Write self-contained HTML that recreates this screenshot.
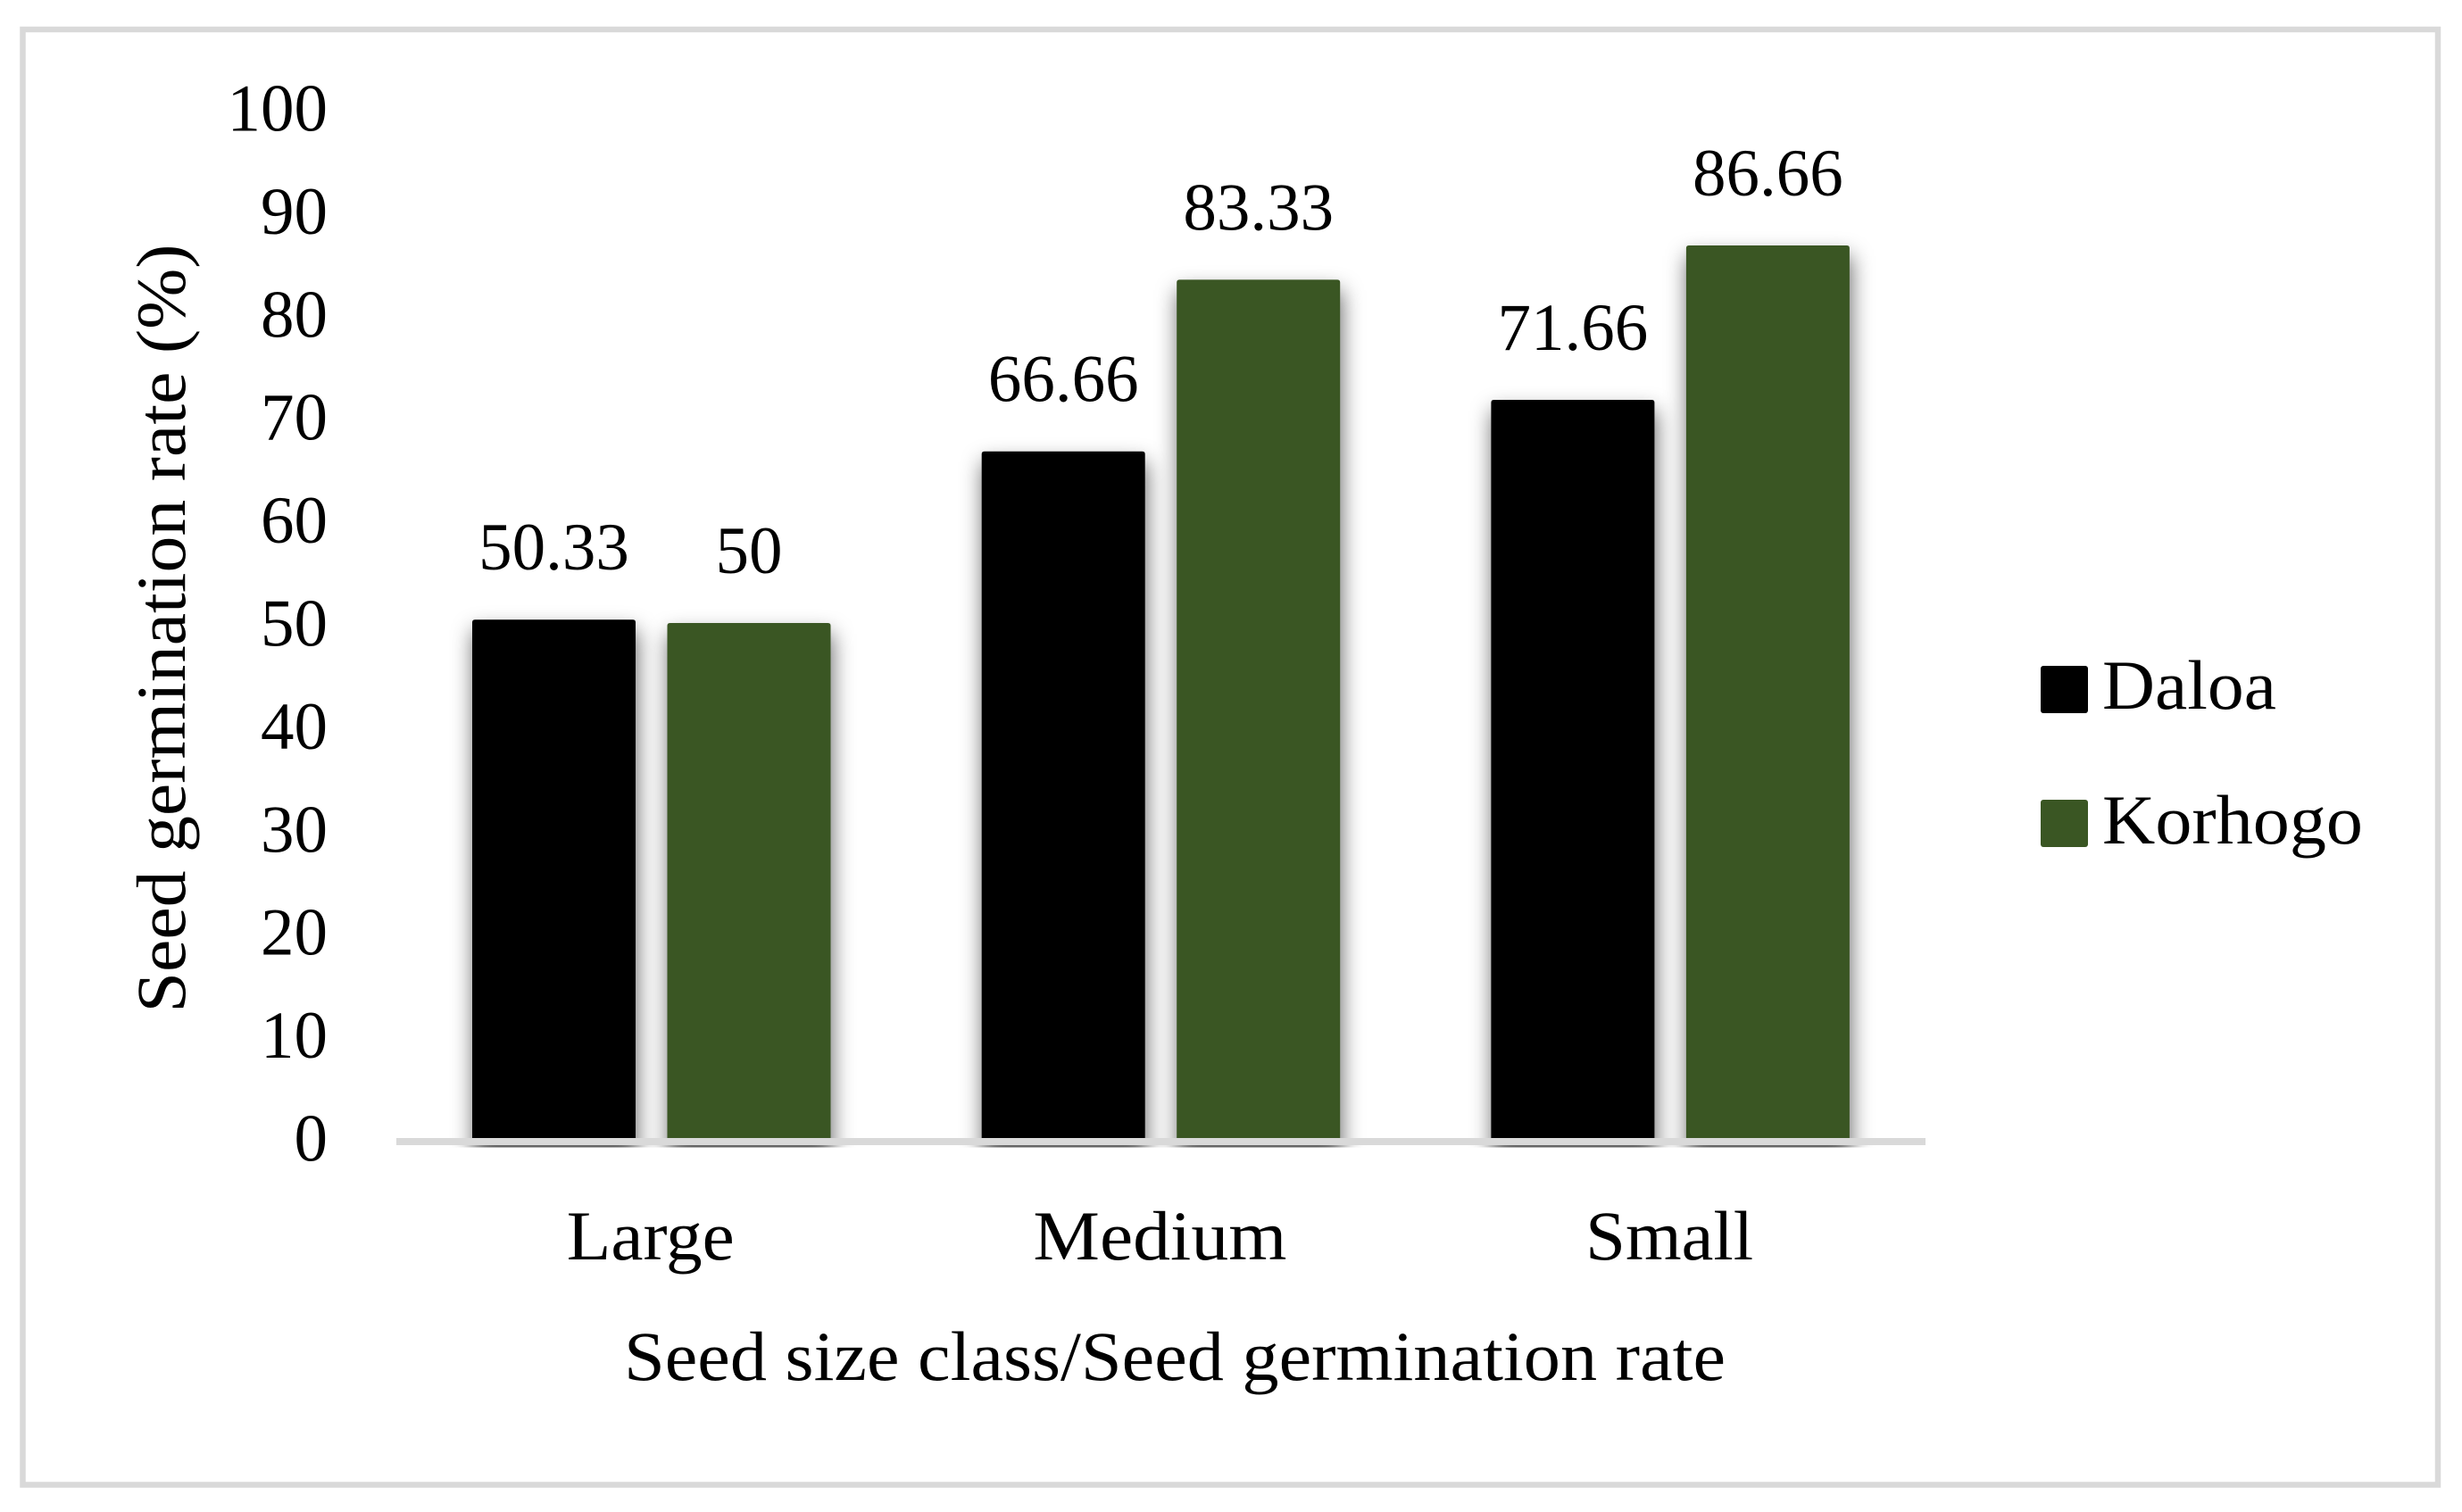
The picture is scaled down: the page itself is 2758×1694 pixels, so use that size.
<!DOCTYPE html>
<html lang="en">
<head>
<meta charset="utf-8">
<title>Seed germination rate by seed size class</title>
<style>
  html, body { margin: 0; padding: 0; background: #fff; width: 2758px; height: 1694px; overflow: hidden; }
  svg { display: block; }
  text { font-family: "Liberation Serif", serif; fill: #000; }
</style>
</head>
<body>
<svg id="chart" xmlns="http://www.w3.org/2000/svg" width="2758" height="1694" viewBox="0 0 2758 1694">
  <defs>
    <filter id="bar-shadow-blur" filterUnits="userSpaceOnUse" x="0" y="0" width="2758" height="1694">
      <feGaussianBlur stdDeviation="12"/>
    </filter>
    <clipPath id="shadow-clip">
      <rect x="0" y="0" width="2758" height="1285.5"/>
    </clipPath>
  </defs>
  <rect x="0" y="0" width="2758" height="1694" fill="#ffffff"/>
  <rect x="25.5" y="33" width="2705.5" height="1630.5" fill="none" stroke="#d9d9d9" stroke-width="6.5"/>
  <g id="shadows" clip-path="url(#shadow-clip)"></g>
  <g id="bars"></g>
  <rect x="444" y="1275" width="1713" height="8" fill="#d9d9d9"/>
  <g id="y-ticks"></g>
  <g id="x-ticks"></g>
  <g id="value-labels"></g>
  <text transform="translate(207 704) rotate(-90)" text-anchor="middle" font-size="78" textLength="861" lengthAdjust="spacingAndGlyphs">Seed germination rate (%)</text>
  <text x="1316" y="1546" text-anchor="middle" font-size="78" textLength="1234" lengthAdjust="spacingAndGlyphs">Seed size class/Seed germination rate</text>
  <g>
    <g>
      <rect x="2286" y="746" width="53" height="53" rx="3" fill="#000000"/>
      <text x="2355" y="794" font-size="78" textLength="195" lengthAdjust="spacingAndGlyphs">Daloa</text>
    </g>
    <g>
      <rect x="2286" y="896" width="53" height="53" rx="3" fill="#3a5623"/>
      <text x="2355" y="945" font-size="78" textLength="292" lengthAdjust="spacingAndGlyphs">Korhogo</text>
    </g>
  </g>
</svg>
<script>
const categories = ['Large', 'Medium', 'Small'];
const daloa = [50.33, 66.66, 71.66];
const korhogo = [50, 83.33, 86.66];
const yTickLabels = [0, 10, 20, 30, 40, 50, 60, 70, 80, 90, 100];

const NS = 'http://www.w3.org/2000/svg';
const PLOT_BASE = 1275;
const PX_PER_UNIT = 11.54;
const GROUP_START = 529;
const GROUP_STEP = 570.7;
const BAR_W = 183;
const BAR_OFFSET = 218.5;
const categoryLabelWidth = { Large: 188, Medium: 284, Small: 188 };

function yScale(v) { return PLOT_BASE - v * PX_PER_UNIT; }
function xScale(groupIndex, seriesIndex) { return GROUP_START + groupIndex * GROUP_STEP + seriesIndex * BAR_OFFSET; }

function make(tag, attrs, parent) {
  const el = document.createElementNS(NS, tag);
  for (const k in attrs) el.setAttribute(k, attrs[k]);
  parent.appendChild(el);
  return el;
}

const shadowLayer = document.getElementById('shadows');
const barLayer = document.getElementById('bars');
const labelLayer = document.getElementById('value-labels');
const yTickLayer = document.getElementById('y-ticks');
const xTickLayer = document.getElementById('x-ticks');

const seriesList = [
  { key: 'daloa', values: daloa, color: '#000000' },
  { key: 'korhogo', values: korhogo, color: '#3a5623' }
];

seriesList.forEach(function (s, si) {
  s.values.forEach(function (v, gi) {
    const x = xScale(gi, si);
    const top = yScale(v);

    const sh = make('rect', { x: x + 1.5, y: top + 12, width: BAR_W, height: PLOT_BASE + 40 - top - 12, fill: '#000', 'fill-opacity': 0.6, filter: 'url(#bar-shadow-blur)' }, shadowLayer);
    
    

    const bar = make('path', { d: 'M' + x + ' ' + PLOT_BASE + 'V' + (top + 3) + 'Q' + x + ' ' + top + ' ' + (x + 3) + ' ' + top + 'H' + (x + BAR_W - 3) + 'Q' + (x + BAR_W) + ' ' + top + ' ' + (x + BAR_W) + ' ' + (top + 3) + 'V' + PLOT_BASE + 'Z', fill: s.color }, barLayer);
    
    

    const label = make('text', { x: x + BAR_W / 2, y: top - 56, 'text-anchor': 'middle', 'font-size': 75 }, labelLayer);
    label.textContent = String(v);
    
    
  });
});

yTickLabels.forEach(function (t) {
  const tick = make('text', { x: 367, y: yScale(t) + 25.5, 'text-anchor': 'end', 'font-size': 75 }, yTickLayer);
  tick.textContent = String(t);
  
  
});

categories.forEach(function (c, gi) {
  const center = (xScale(gi, 0) + xScale(gi, 1) + BAR_W) / 2 - 1;
  const cat = make('text', { x: center, y: 1411, 'text-anchor': 'middle', 'font-size': 78, textLength: categoryLabelWidth[c], lengthAdjust: 'spacingAndGlyphs' }, xTickLayer);
  cat.textContent = c;
  
  
});
</script>
</body>
</html>
